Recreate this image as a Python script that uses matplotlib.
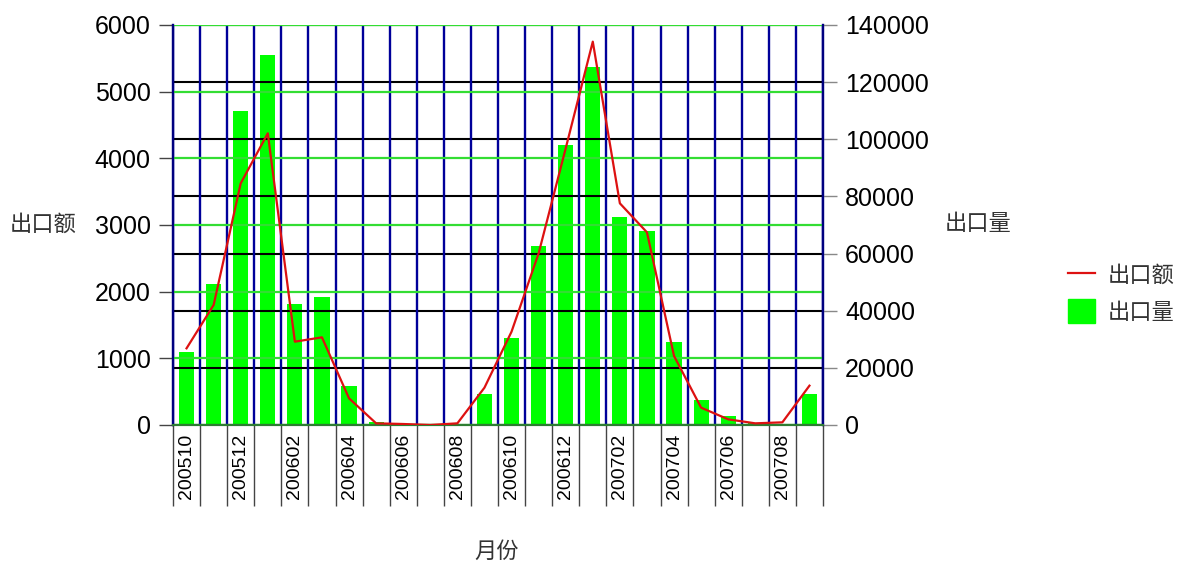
import matplotlib
matplotlib.use("Agg")
import matplotlib.pyplot as plt
from matplotlib.lines import Line2D
from matplotlib.patches import Patch
import numpy as np

plt.rcParams['font.family'] = ['Liberation Sans', 'Noto Sans CJK SC', 'DejaVu Sans']

months = ['200510', '200511', '200512', '200601', '200602', '200603', '200604', '200605',
          '200606', '200607', '200608', '200609', '200610', '200611', '200612', '200701',
          '200702', '200703', '200704', '200705', '200706', '200707', '200708', '200709']
amount = [1150, 1800, 3625, 4375, 1250, 1315, 400, 25, 15, 0, 25, 560,
          1400, 2575, 4150, 5750, 3325, 2890, 1035, 260, 85, 25, 40, 590]
quantity = [25500, 49500, 110000, 129500, 42500, 44700, 13600, 1000, 200, 0, 350, 10800,
            30300, 62800, 97900, 125400, 72700, 67800, 29000, 8600, 3150, 700, 350, 10850]
left_ticks = [0, 1000, 2000, 3000, 4000, 5000, 6000]
right_ticks = [0, 20000, 40000, 60000, 80000, 100000, 120000, 140000]

W, H = 1181, 567
fig = plt.figure(figsize=(W / 100, H / 100), dpi=100)
ax = fig.add_axes([173 / W, (H - 425) / H, 650 / W, 400 / H])
ax2 = ax.twinx()

x = np.arange(len(months))

# bars on right axis
ax2.bar(x, quantity, width=0.56, color='#00ff00', zorder=1)
ax2.set_ylim(0, 140000)
ax2.set_yticks(right_ticks)
ax2.set_yticklabels([str(v) for v in right_ticks], fontsize=18)
ax2.set_axisbelow(False)
ax2.grid(axis='y', color='black', linewidth=1.5, zorder=2)
ax2.tick_params(axis='y', length=10, width=1, color='#888888', pad=6)

# line on left axis (on top)
ax.set_zorder(ax2.get_zorder() + 1)
ax.patch.set_visible(False)
ax.plot(x, amount, color='#dd1111', linewidth=1.6, zorder=5)
ax.set_ylim(0, 6000)
ax.set_yticks(left_ticks)
ax.set_yticklabels([str(v) for v in left_ticks], fontsize=18)
ax.tick_params(axis='y', length=10, width=1, color='#444444', pad=6)
ax.grid(axis='y', color='#33dd33', linewidth=1.6, zorder=3)

ax.set_xlim(-0.5, len(months) - 0.5)
ax.set_xticks(x[::2])
ax.set_xticklabels(months[::2], rotation=90, fontsize=14, va='top')
ax.set_xticks(np.arange(-0.5, len(months), 1.0), minor=True)
ax.tick_params(axis='x', which='major', length=0, pad=6)
ax.tick_params(axis='x', which='minor', length=58, width=1, color='#444444')
ax.grid(axis='x', which='minor', color='#000099', linewidth=1.7, zorder=3)
ax2.tick_params(axis='x', which='both', length=0)

for a in (ax, ax2):
    a.spines['top'].set_visible(False)
    a.spines['left'].set_color('#000080')
    a.spines['right'].set_color('#000080')
    a.spines['left'].set_linewidth(1.6)
    a.spines['right'].set_linewidth(1.6)
    a.spines['bottom'].set_color('#2e7d32')
    a.spines['bottom'].set_linewidth(1.5)

# axis titles
fig.text(10 / W, 1 - 225 / H, '出口额', fontsize=16, color='#333333', ha='left', va='center')
fig.text(945 / W, 1 - 225 / H, '出口量', fontsize=16, color='#333333', ha='left', va='center')
fig.text(497 / W, 1 - 552 / H, '月份', fontsize=16, color='#333333', ha='center', va='center')

handles = [Line2D([0], [0], color='#dd1111', linewidth=1.6),
           Patch(facecolor='#00ff00', edgecolor='#00ff00')]
fig.legend(handles, ['出口额', '出口量'], loc='upper left',
           bbox_to_anchor=(1068 / W, 1 - 263 / H), frameon=False, fontsize=16,
           handlelength=1.2, handleheight=1.25, labelspacing=0.55, handletextpad=0.6,
           borderpad=0, borderaxespad=0, labelcolor='#333333')

fig.savefig('out.png', dpi=100)
